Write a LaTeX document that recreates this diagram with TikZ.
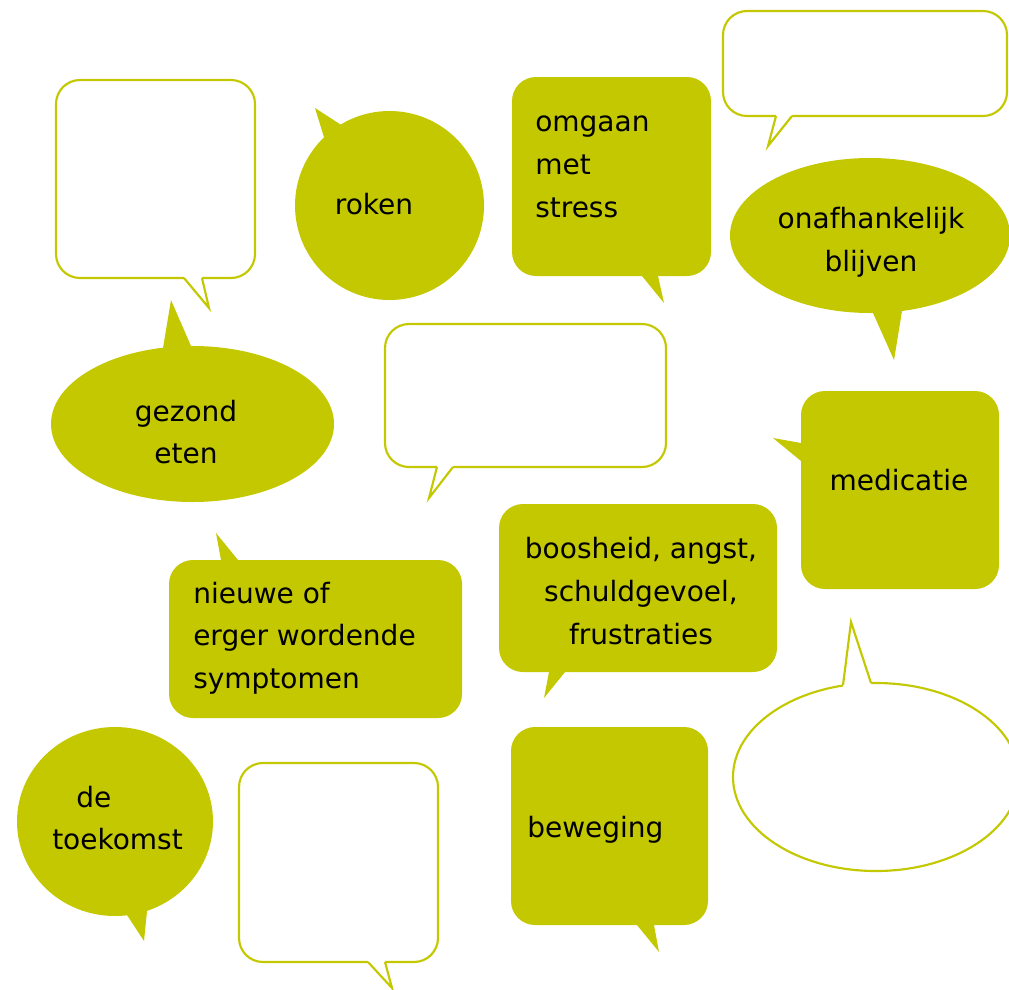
\documentclass[tikz,border=0pt]{standalone}
\usepackage{fontspec}
\setmainfont{DejaVu Sans}
\usepackage{tikz}
\definecolor{bubble}{RGB}{196,200,0}

\begin{document}
\begin{tikzpicture}[x=0.75pt,y=-0.75pt,
	fullbox/.style={fill=bubble,rounded corners=18pt},
	openbox/.style={draw=bubble,line width=1.6pt,rounded corners=18pt},
	fullpoint/.style={fill=bubble},
	openpoint/.style={fill=white},
	openedge/.style={draw=bubble,line width=1.6pt},
	say/.style={font=\fontsize{21}{32}\selectfont,inner sep=0pt}]
	\useasboundingbox (0,0) rectangle (1009,989);
	\clip (0,0) rectangle (1009,989);

	\draw[openbox] (56,80) rectangle (255,278);
	\path[openpoint] (184,274) -- (184,278) -- (209,308) -- (202,278) -- (202,274) -- cycle;
	\path[openedge] (184,278) -- (209,308) -- (202,278);

	\fill[bubble] (389.5,205.5) circle [radius=94.5];
	\path[fullpoint] (315,108) -- (349,130) -- (327,147) -- cycle;
	\node[say] (roken) at (374,204) {roken};

	\path[fullbox] (512,77) rectangle (711,276);
	\path[fullpoint] (642,270) -- (642,276) -- (664,303) -- (658,276) -- (658,270) -- cycle;
	\node[say,align=left,anchor=west] (stress) at (535,167) {omgaan\\met\\stress};

	\draw[openbox] (723,11) rectangle (1007,116);
	\path[openpoint] (776,112) -- (776,116) -- (768,146) -- (792,116) -- (792,112) -- cycle;
	\path[openedge] (776,116) -- (768,146) -- (792,116);

	\fill[bubble] (870,235.5) ellipse [x radius=140,y radius=77.5];
	\path[fullpoint] (873,300) -- (873,313) -- (894,360) -- (902,311) -- (902,300) -- cycle;
	\node[say,align=center] (zelf) at (871,242) {onafhankelijk\\blijven};

	\fill[bubble] (192.5,424) ellipse [x radius=141.5,y radius=78];
	\path[fullpoint] (163,358) -- (163,348) -- (171,300) -- (191,346) -- (191,358) -- cycle;
	\node[say,align=center] (eten) at (186,432) {gezond\\eten};

	\draw[openbox] (385,324) rectangle (666,467);
	\path[openpoint] (437,463) -- (437,467) -- (429,498) -- (453,467) -- (453,463) -- cycle;
	\path[openedge] (437,467) -- (429,498) -- (453,467);

	\path[fullbox] (169,560) rectangle (462,718);
	\path[fullpoint] (221,566) -- (221,560) -- (216,533) -- (238,560) -- (238,566) -- cycle;
	\node[say,align=left,anchor=west] (klachten) at (193,638) {nieuwe of\\erger wordende\\symptomen};

	\path[fullbox] (499,504) rectangle (777,672);
	\path[fullpoint] (549,666) -- (549,672) -- (544,698) -- (565,672) -- (565,666) -- cycle;
	\node[say,align=center] (gevoel) at (641,591) {boosheid, angst,\\schuldgevoel,\\frustraties};

	\path[fullbox] (801,391) rectangle (999,589);
	\path[fullpoint] (807,443) -- (801,443) -- (773,438) -- (801,461) -- (807,461) -- cycle;
	\node[say] (medicatie) at (899,480) {medicatie};

	\draw[bubble,line width=1.6pt,fill=white] (876,777) ellipse [x radius=143,y radius=94];
	\path[openpoint] (843,692) -- (843,685) -- (851,622) -- (871,683) -- (871,692) -- cycle;
	\path[openedge] (843,685) -- (851,622) -- (871,683);

	\fill[bubble] (115,821.5) ellipse [x radius=98,y radius=94.5];
	\path[fullpoint] (127,905) -- (127,915) -- (144,941) -- (147,911) -- (147,905) -- cycle;
	\node[say,align=left,anchor=west] (toekomst) at (52,818) {\hspace*{18pt}de\\toekomst};

	\draw[openbox] (239,763) rectangle (438,962);
	\path[openpoint] (368,958) -- (368,962) -- (392,988) -- (385,962) -- (385,958) -- cycle;
	\path[openedge] (368,962) -- (392,988) -- (385,962);

	\path[fullbox] (511,727) rectangle (708,925);
	\path[fullpoint] (637,919) -- (637,925) -- (659,952) -- (654,925) -- (654,919) -- cycle;
	\node[say,anchor=west] (beweging) at (527,830) {beweging};

\end{tikzpicture}
\end{document}
